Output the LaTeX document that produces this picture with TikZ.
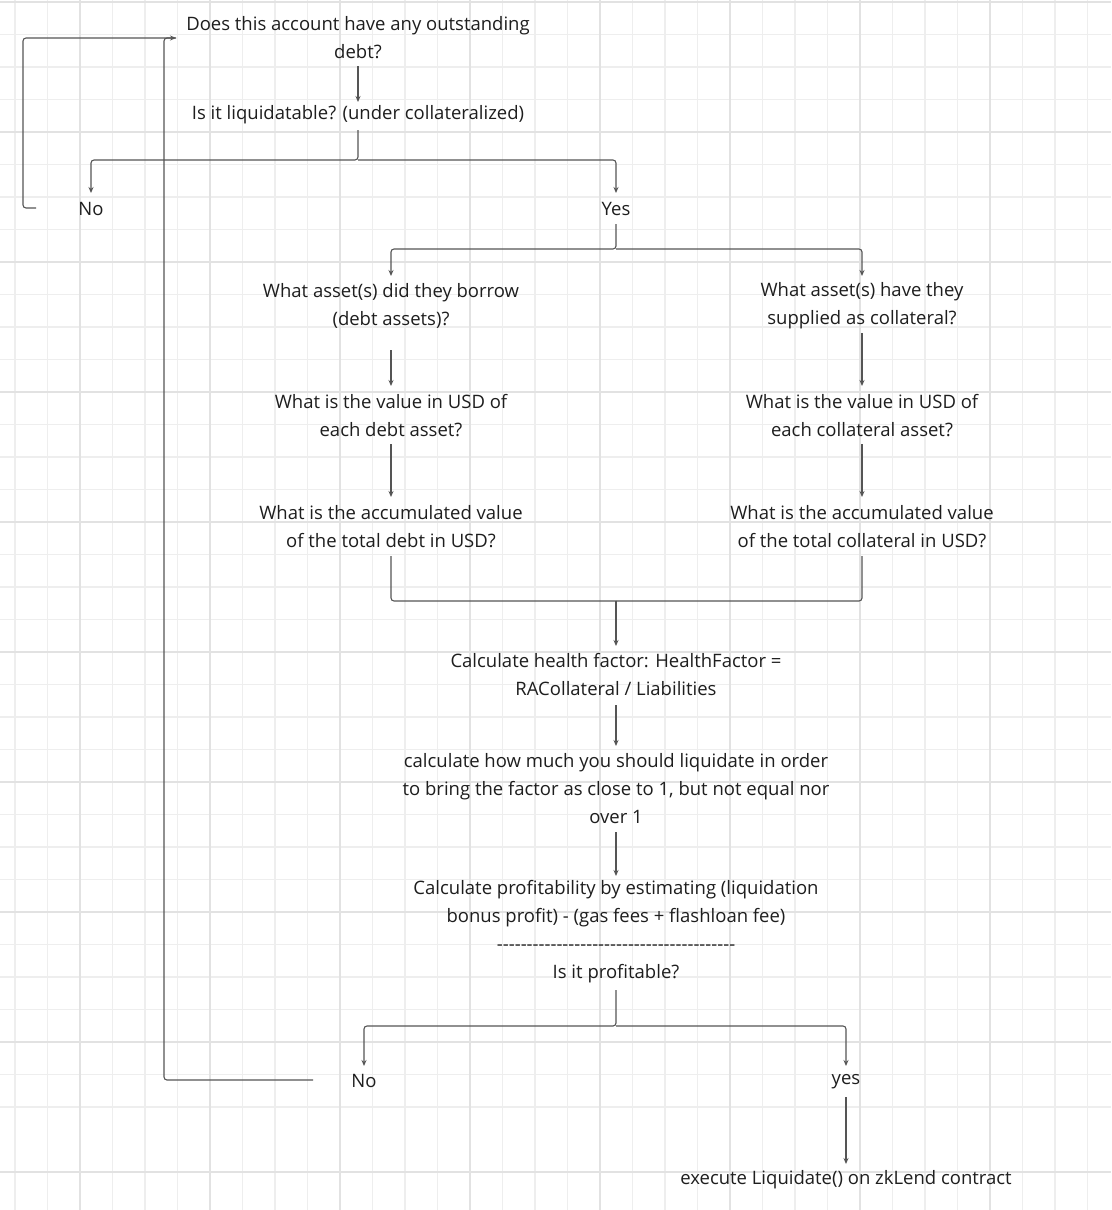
\documentclass[tikz,border=0pt]{standalone}
\usepackage{fontspec}
\setmainfont{Open Sans}
\usetikzlibrary{arrows.meta}
\definecolor{ln}{HTML}{555555}
\definecolor{txt}{HTML}{1E1E1E}
\definecolor{gmin}{HTML}{EEEEEE}
\definecolor{gmaj}{HTML}{E2E2E2}
\begin{document}
\begin{tikzpicture}[x=1pt,y=-1pt,
  lbl/.style={inner sep=0pt,align=center,text=txt,font=\fontsize{18.5}{28}\selectfont},
  conn/.style={draw=ln,line width=1.1pt,rounded corners=3pt},
  arr/.style={conn,-{Stealth[length=6pt,width=5pt]}}]
\fill[white] (0,0) rectangle (1111,1210);
\useasboundingbox (0,0) rectangle (1111,1210);
\foreach \k in {0,...,34}{
  \draw[gmin,line width=1.2pt] ({15+32.5*\k},0) -- ({15+32.5*\k},1210);
  \draw[gmin,line width=1.2pt] (0,{2+32.5*\k}) -- (1111,{2+32.5*\k});}
\foreach \k in {-1,...,9}{
  \draw[gmaj,line width=1.4pt] ({80+130*\k},0) -- ({80+130*\k},1210);
  \draw[gmaj,line width=1.4pt] (0,{132+130*\k}) -- (1111,{132+130*\k});}

\node[lbl] (q1) at (358,38) {Does this account have any outstanding\\debt?};
\node[lbl] (q2) at (358,115) {Is it liquidatable? (under collateralized)};
\node[lbl] (no1) at (91,209) {No};
\node[lbl] (yes1) at (616,209) {Yes};
\node[lbl] (l1) at (391,306) {What asset(s) did they borrow\\(debt assets)?};
\node[lbl] (l2) at (391,416) {What is the value in USD of\\each debt asset?};
\node[lbl] (l3) at (391,527) {What is the accumulated value\\of the total debt in USD?};
\node[lbl] (r1) at (862,306) {What asset(s) have they\\supplied as collateral?};
\node[lbl] (r2) at (862,416) {What is the value in USD of\\each collateral asset?};
\node[lbl] (r3) at (862,527) {What is the accumulated value\\of the total collateral in USD?};
\node[lbl] (hf) at (616,675) {Calculate health factor: HealthFactor =\\RACollateral / Liabilities};
\node[lbl] (cl) at (616,789) {calculate how much you should liquidate in order\\to bring the factor as close to 1, but not equal nor\\over 1};
\node[lbl] (pr) at (616,932) {Calculate profitability by estimating (liquidation\\bonus profit) - (gas fees + flashloan fee)\\-{}-{}-{}-{}-{}-{}-{}-{}-{}-{}-{}-{}-{}-{}-{}-{}-{}-{}-{}-{}-{}-{}-{}-{}-{}-{}-{}-{}-{}-{}-{}-{}-{}-{}-{}-{}-{}-{}-{}-{}\\Is it profitable?};
\node[lbl] (no2) at (364,1081) {No};
\node[lbl] (yes2) at (846,1082) {yes};
\node[lbl] (ex) at (846,1180) {execute Liquidate() on zkLend contract};

\coordinate (t1) at (176,38);
\draw[arr] (358,66) -- (358,102);
\draw[arr] (358,130) -- (358,160) -| (91,193);
\draw[arr] (358,160) -| (616,193);
\draw[arr] (36,208) -- (23,208) -- (23,38) -- (t1);
\draw[conn] (313,1080) -- (164,1080) -- (164,38) -- (176,38);
\draw[arr] (616,224) -- (616,249) -| (391,276);
\draw[arr] (616,249) -| (862,276);
\draw[arr] (391,350) -- (391,386);
\draw[arr] (391,444) -- (391,497);
\draw[arr] (862,333) -- (862,386);
\draw[arr] (862,444) -- (862,497);
\draw[conn] (391,556) |- (616,601);
\draw[conn] (862,556) |- (616,601);
\draw[arr] (616,601) -- (616,646);
\draw[arr] (616,705) -- (616,746);
\draw[arr] (616,832) -- (616,876);
\draw[arr] (616,990) -- (616,1026) -| (364,1066);
\draw[arr] (616,1026) -| (846,1066);
\draw[arr] (846,1097) -- (846,1164);
\end{tikzpicture}
\end{document}
